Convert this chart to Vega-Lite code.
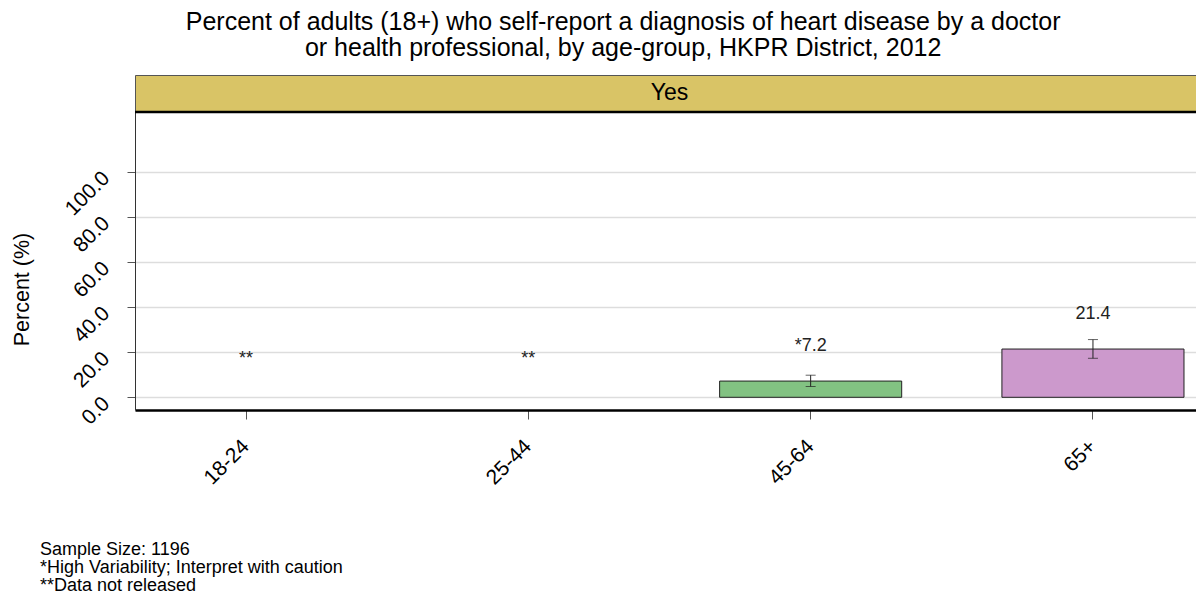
{
  "$schema": "https://vega.github.io/schema/vega-lite/v6.json",
  "background": "white",
  "padding": {"left": 11, "top": 9, "right": 0, "bottom": 0},
  "config": {"font": "Liberation Sans", "view": {"stroke": null}},
  "title": {
    "text": ["Percent of adults (18+) who self-report a diagnosis of heart disease by a doctor", "or health professional, by age-group, HKPR District, 2012"],
    "fontSize": 25, "fontWeight": "normal", "lineHeight": 26, "color": "#000", "anchor": "middle", "offset": 14, "dx": 19
  },
  "spacing": 0,
  "bounds": "flush",
  "vconcat": [
    {
      "width": 1061, "height": 37,
      "view": {"fill": "#D9C466", "stroke": "#555", "strokeWidth": 1},
      "data": {"values": [{"strip": "Yes"}]},
      "mark": {"type": "text", "fontSize": 23, "color": "#000", "dx": 4, "dy": -1},
      "encoding": {"text": {"field": "strip", "type": "nominal"}}
    },
    {
      "width": 1061, "height": 298,
      "title": {
        "text": ["Sample Size: 1196", "*High Variability; Interpret with caution", "**Data not released"],
        "orient": "bottom", "anchor": "start", "frame": "group", "fontSize": 18, "fontWeight": "normal",
        "lineHeight": 18, "dx": -95, "offset": 53, "color": "#000"
      },
      "data": {"values": [
        {"age": "18-24", "pct": null, "lo": null, "hi": null, "label": "**", "label_y": 14.7},
        {"age": "25-44", "pct": null, "lo": null, "hi": null, "label": "**", "label_y": 14.7},
        {"age": "45-64", "pct": 7.2, "lo": 4.8, "hi": 9.8, "label": "*7.2", "label_y": 20.4},
        {"age": "65+", "pct": 21.4, "lo": 17.3, "hi": 25.6, "label": "21.4", "label_y": 34.7}
      ]},
      "encoding": {
        "x": {
          "field": "age", "type": "nominal", "sort": ["18-24", "25-44", "45-64", "65+"],
          "scale": {"paddingInner": 0.355, "paddingOuter": 0.0567, "align": 0.625},
          "axis": {"title": null, "labelAngle": -45, "labelFontSize": 21, "labelAlign": "right", "labelBaseline": "middle",
                   "labelColor": "#000", "tickSize": 9, "tickColor": "#555", "domainColor": "#000", "domainWidth": 2.5, "labelPadding": 24}
        }
      },
      "layer": [
        {
          "mark": {"type": "bar", "stroke": "#222", "strokeWidth": 1},
          "encoding": {
            "y": {"field": "pct", "type": "quantitative",
                  "scale": {"domain": [-5.63, 126.5], "nice": false, "zero": false},
                  "axis": {"title": "Percent (%)", "titleFontSize": 21.5, "titleFontWeight": "normal", "titleColor": "#000",
                           "titleX": -113, "titleY": 177, "titleBaseline": "middle", "titleAlign": "center", "titleAngle": -90,
                           "labelAngle": -45, "labelFontSize": 21, "labelColor": "#000", "values": [0, 20, 40, 60, 80, 100],
                           "labelAlign": "right", "labelBaseline": "middle", "labelOffset": 3,
                           "labelOverlap": false, "labelBound": false,
                           "format": ".1f", "grid": true, "gridColor": "#DDDDDD", "gridWidth": 1.5, "domainColor": "#333",
                           "tickColor": "#555", "tickSize": 8, "labelPadding": 21}},
            "y2": {"datum": 0},
            "fill": {"field": "age", "type": "nominal",
                     "scale": {"domain": ["18-24", "25-44", "45-64", "65+"], "range": ["#999999", "#999999", "#82C282", "#CC99CC"]},
                     "legend": null}
          }
        },
        {
          "mark": {"type": "rule", "color": "#222", "strokeWidth": 1},
          "encoding": {"y": {"field": "lo", "type": "quantitative"}, "y2": {"field": "hi"}}
        },
        {
          "mark": {"type": "tick", "color": "#222", "size": 10, "thickness": 1},
          "encoding": {"y": {"field": "lo", "type": "quantitative"}}
        },
        {
          "mark": {"type": "tick", "color": "#222", "size": 10, "thickness": 1},
          "encoding": {"y": {"field": "hi", "type": "quantitative"}}
        },
        {
          "mark": {"type": "text", "fontSize": 18, "color": "#222", "baseline": "alphabetic"},
          "encoding": {"y": {"field": "label_y", "type": "quantitative"}, "text": {"field": "label", "type": "nominal"}}
        },
        {
          "data": {"values": [{"top": 126.5}]},
          "mark": {"type": "rule", "color": "#000", "strokeWidth": 2.5},
          "encoding": {"y": {"field": "top", "type": "quantitative"}, "x": null}
        }
      ]
    }
  ]
}
